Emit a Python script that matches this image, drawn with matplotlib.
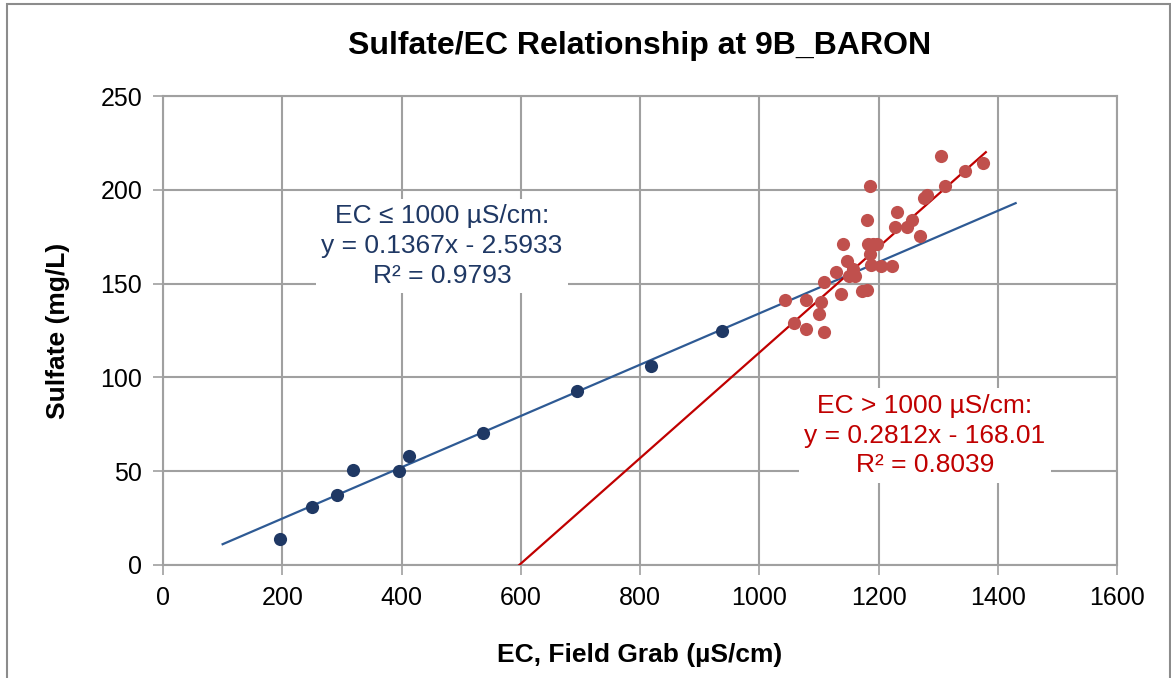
"""Sulfate vs EC scatter with split linear trendlines."""

import matplotlib

matplotlib.use("Agg")
import matplotlib.pyplot as plt
import numpy as np
from matplotlib.patches import Rectangle

# EC <= 1000 uS/cm samples
low_ec = [197, 250, 292, 319, 395, 413, 537, 695, 818, 938]
low_so4 = [14, 31, 37.5, 50.5, 50, 58, 70.5, 92.5, 106, 125]

# EC > 1000 uS/cm samples
high_ec = [1044, 1058, 1078, 1078, 1100, 1104, 1108, 1109, 1128, 1137,
           1140, 1147, 1150, 1158, 1161, 1172, 1180, 1181, 1185, 1183,
           1191, 1185, 1187, 1197, 1205, 1223, 1228, 1231, 1248, 1256,
           1269, 1277, 1281, 1304, 1312, 1345, 1375]
high_so4 = [141, 129, 141.5, 126, 134, 140, 124, 151, 156, 144.5,
            171, 162, 154, 158, 154, 146, 146.5, 184, 202, 171,
            171, 166, 160, 171, 159.5, 159.3, 180, 188, 180, 184,
            175.5, 195.5, 197, 218, 202, 210, 214.5]

# trendline coefficients and extents
low_fit = (0.1367, -2.5933)
low_fit_range = (100, 1430)
high_fit = (0.2812, -168.01)
high_fit_range = (597.5, 1380)

x_ticks = [0, 200, 400, 600, 800, 1000, 1200, 1400, 1600]
y_ticks = [0, 50, 100, 150, 200, 250]

NAVY = "#1F3864"
LINE_BLUE = "#2E5A94"
RED_DOT = "#C0504D"
RED = "#C00000"
GRID = "#A0A0A0"

plt.rcParams["font.family"] = ["Liberation Sans", "DejaVu Sans"]

fig = plt.figure(figsize=(11.71, 6.78), dpi=100)
fig.patches.append(Rectangle((7 / 1171, -0.01), 1163 / 1171, 1.0 - 4 / 678 + 0.01,
                             transform=fig.transFigure, fill=False,
                             edgecolor="#8C8C8C", linewidth=1.5))
ax = fig.add_axes([163 / 1171, 1 - 565 / 678, 954 / 1171, 469 / 678])

ax.scatter(low_ec, low_so4, s=90, color=NAVY, zorder=5, linewidths=0)
ax.scatter(high_ec, high_so4, s=90, color=RED_DOT, zorder=5, linewidths=0)

xs = np.array(low_fit_range)
ax.plot(xs, low_fit[0] * xs + low_fit[1], color=LINE_BLUE, lw=1.6, zorder=4)
xs = np.array(high_fit_range)
ax.plot(xs, high_fit[0] * xs + high_fit[1], color=RED, lw=1.6, zorder=4)

ax.text(468, 170, "EC \u2264 1000 \u00b5S/cm:\ny = 0.1367x - 2.5933\nR\u00b2 = 0.9793",
        color=NAVY, fontsize=19, ha="center", va="center", linespacing=1.3,
        zorder=3, bbox=dict(facecolor="white", edgecolor="none", pad=4))
ax.text(1278, 69, "EC > 1000 \u00b5S/cm:\ny = 0.2812x - 168.01\nR\u00b2 = 0.8039",
        color=RED, fontsize=19, ha="center", va="center", linespacing=1.3,
        zorder=3, bbox=dict(facecolor="white", edgecolor="none", pad=4))

ax.set_xlim(0, 1600)
ax.set_ylim(0, 250)
ax.set_xticks(x_ticks)
ax.set_yticks(y_ticks)
ax.tick_params(labelsize=18, colors=GRID, labelcolor="black", length=7,
               width=1.2, pad=8)
ax.grid(True, color=GRID, lw=1.5, zorder=0)
ax.set_axisbelow(True)
for side in ax.spines.values():
    side.set_color(GRID)
    side.set_linewidth(1.5)

ax.set_title("Sulfate/EC Relationship at 9B_BARON", fontsize=23,
             fontweight="bold", pad=30)
ax.set_xlabel("EC, Field Grab (\u00b5S/cm)", fontsize=19, fontweight="bold",
              labelpad=24)
ax.set_ylabel("Sulfate (mg/L)", fontsize=19, fontweight="bold", labelpad=22)

fig.savefig("out.png", dpi=100)
plt.close(fig)
